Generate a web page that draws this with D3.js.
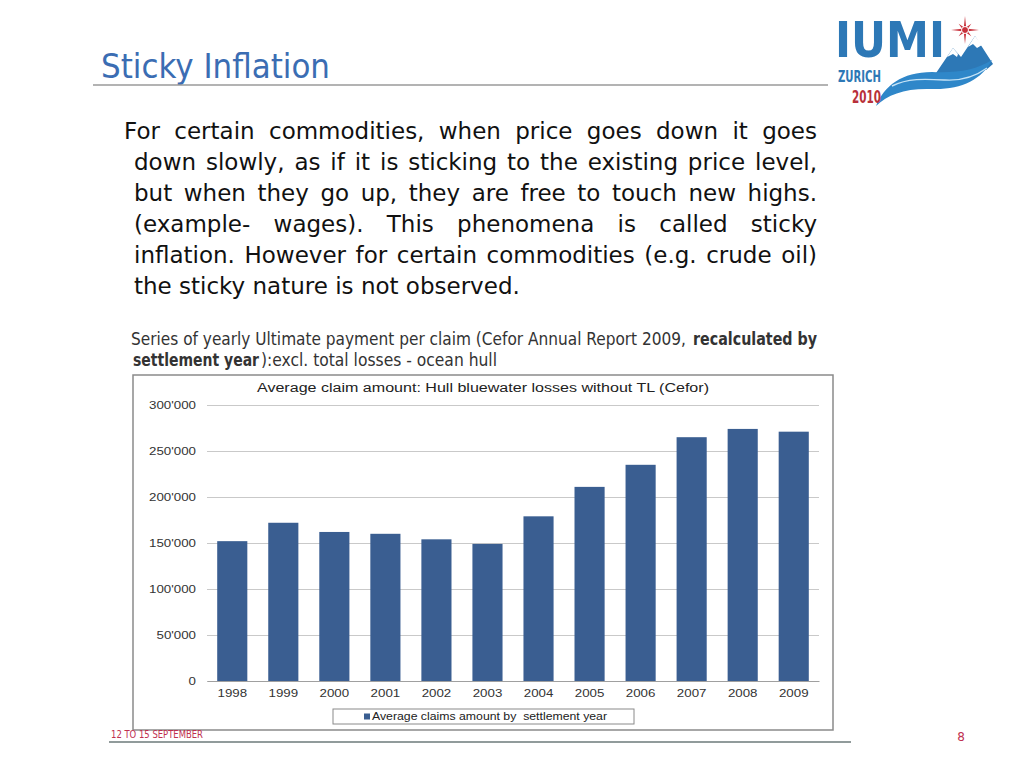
<!DOCTYPE html>
<html>
<head>
<meta charset="utf-8">
<script src="https://cdn.jsdelivr.net/npm/d3@7"></script>
<style>
  body { margin: 0; background: #fff; }
  svg { display: block; }
</style>
</head>
<body>
<svg id="page" width="1024" height="768"></svg>
<script>
// chart data
const years = ["1998", "1999", "2000", "2001", "2002", "2003", "2004", "2005", "2006", "2007", "2008", "2009"];
const avgClaims = [152000, 172000, 162000, 160000, 154000, 149000, 179000, 211000, 235000, 265000, 274000, 271000];
const yTicks = [0, 50000, 100000, 150000, 200000, 250000, 300000];

const chartTitle = "Average claim amount: Hull bluewater losses without TL (Cefor)";
const legendLabel = "Average claims amount by  settlement year";

const bodyLines = [
  "For certain commodities, when price goes down it goes",
  "down slowly, as if it is sticking to the existing price level,",
  "but when they go up, they are free to touch new highs.",
  "(example- wages). This phenomena is called sticky",
  "inflation. However for certain commodities (e.g. crude oil)",
  "the sticky nature is not observed."
];

const svg = d3.select("#page");
const blue = "#3b6db3";
const red = "#c0304f";
const bodyFont = "'DejaVu Sans', sans-serif";
const narrowFont = "'Liberation Sans Narrow', 'DejaVu Sans Condensed', sans-serif";

// stretch words of a line to fill a given width
const justify = (sel, width) => {
  sel.each(function () {
    const t = d3.select(this);
    const natural = this.getComputedTextLength();
    const spaces = (t.text().match(/ /g) || []).length;
    if (natural < width && spaces) {
      t.style("word-spacing", ((width - natural) / spaces) + "px");
    } else if (natural > width) {
      t.attr("textLength", width).attr("lengthAdjust", "spacingAndGlyphs");
    }
  });
};

// the pasted chart picture is stretched sideways
const widen = (sel, k) => {
  sel.each(function () {
    d3.select(this)
      .attr("textLength", this.getComputedTextLength() * k)
      .attr("lengthAdjust", "spacingAndGlyphs");
  });
};

// ---- header ----
svg.append("text")
  .attr("x", 101).attr("y", 78)
  .attr("font-family", bodyFont)
  .attr("font-size", 33)
  .attr("fill", blue)
  .attr("textLength", 229).attr("lengthAdjust", "spacingAndGlyphs")
  .text("Sticky Inflation");

svg.append("line")
  .attr("x1", 93).attr("x2", 828).attr("y1", 85).attr("y2", 85)
  .attr("stroke", "#9a9a9a").attr("stroke-width", 1.5);

// ---- logo ----
const logo = svg.append("g");
logo.append("path")
  .attr("d", "M934,76 L953,48 L961,57 L975,36 L993,64 L986,70 Z")
  .attr("fill", "#2d78b6");
logo.append("path")
  .attr("d", "M953,48 L947,57 L953,54 L957,57 L958,54 Z M975,36 L968,47 L973,44 L977,48 L982,45 Z")
  .attr("fill", "#fff");
logo.append("path")
  .attr("d", "M876,106 C884,86 902,72 932,72 C958,73 976,70 992,60 C982,80 960,90 932,89 C906,88 888,94 876,106 Z")
  .attr("fill", "#2f87c9");
logo.append("path")
  .attr("d", "M892,86 C908,78 925,79 945,80 C962,81 976,76 987,68")
  .attr("fill", "none").attr("stroke", "#c6e3f6").attr("stroke-width", 1.4);

// compass star
const starPts = d3.range(16).map(i => {
  const a = i * Math.PI / 8 - Math.PI / 2;
  const r = i % 4 === 0 ? 14 : (i % 2 === 0 ? 9 : 3);
  return [965 + r * Math.cos(a), 30 + r * Math.sin(a)];
});
logo.append("polygon")
  .attr("points", starPts.map(p => p.join(",")).join(" "))
  .attr("fill", "#c8323c");
logo.append("circle")
  .attr("cx", 965).attr("cy", 30).attr("r", 3.5)
  .attr("fill", "none").attr("stroke", "#fff").attr("stroke-width", 1);

logo.append("text")
  .attr("x", 835).attr("y", 57)
  .attr("font-family", narrowFont)
  .attr("font-weight", "bold")
  .attr("font-size", 50)
  .attr("fill", "#2d78b6")
  .attr("textLength", 110).attr("lengthAdjust", "spacingAndGlyphs")
  .text("IUMI");
logo.append("text")
  .attr("x", 838).attr("y", 82)
  .attr("font-family", narrowFont)
  .attr("font-weight", "bold")
  .attr("font-size", 15)
  .attr("fill", "#2d78b6")
  .attr("textLength", 43).attr("lengthAdjust", "spacingAndGlyphs")
  .text("ZURICH");
logo.append("text")
  .attr("x", 852).attr("y", 103)
  .attr("font-family", narrowFont)
  .attr("font-weight", "bold")
  .attr("font-size", 18)
  .attr("fill", "#b8303a")
  .attr("textLength", 29).attr("lengthAdjust", "spacingAndGlyphs")
  .text("2010");

// ---- body text ----
const body = svg.append("g")
  .attr("font-family", bodyFont)
  .attr("font-size", 23)
  .attr("fill", "#111");

body.selectAll("text")
  .data(bodyLines)
  .join("text")
  .attr("x", (d, i) => i === 0 ? 124 : 134)
  .attr("y", (d, i) => 139 + i * 31)
  .text(d => d)
  .filter((d, i) => i < bodyLines.length - 1)
  .each(function (d, i) {
    justify(d3.select(this), i === 0 ? 817 - 124 : 817 - 134);
  });

// ---- caption ----
const cap = svg.append("g")
  .attr("font-family", narrowFont)
  .attr("font-size", 17)
  .attr("fill", "#333");

const capParts = [
  { text: "Series of yearly Ultimate payment per claim (Cefor Annual Report 2009,", bold: false, x: 131, y: 345, w: 555 },
  { text: "recalculated by", bold: true, x: 693, y: 345, w: 124 },
  { text: "settlement year", bold: true, x: 133, y: 366, w: 126 },
  { text: "):excl. total losses - ocean hull", bold: false, x: 261, y: 366, w: 236 }
];
cap.selectAll("text")
  .data(capParts)
  .join("text")
  .attr("x", d => d.x).attr("y", d => d.y)
  .attr("font-weight", d => d.bold ? "bold" : "normal")
  .attr("textLength", d => d.w).attr("lengthAdjust", "spacingAndGlyphs")
  .text(d => d.text);

// ---- chart ----
const chartFont = "'Liberation Sans', Arial, sans-serif";
svg.append("rect")
  .attr("x", 133).attr("y", 375).attr("width", 700).attr("height", 355)
  .attr("fill", "#fff").attr("stroke", "#8a8a8a").attr("stroke-width", 1.5);

svg.append("text")
  .attr("x", 257).attr("y", 392)
  .attr("font-family", chartFont)
  .attr("font-size", 12)
  .attr("fill", "#222")
  .attr("textLength", 452).attr("lengthAdjust", "spacingAndGlyphs")
  .text(chartTitle);

const x = d3.scaleBand()
  .domain(years)
  .range([207, 819])
  .paddingInner(0.41)
  .paddingOuter(0.2);

const y = d3.scaleLinear()
  .domain([0, 300000])
  .range([681, 405]);

const fmt = v => d3.format(",")(v).replace(/,/g, "'");

// gridlines + y labels
svg.append("g")
  .attr("transform", "translate(207,0)")
  .call(d3.axisLeft(y).tickValues(yTicks).tickFormat(fmt).tickSize(-612).tickPadding(11))
  .call(g => g.select(".domain").remove())
  .call(g => g.selectAll(".tick line").attr("stroke", "#c9c9c9"))
  .call(g => g.selectAll(".tick text")
    .attr("font-family", chartFont).attr("font-size", 10).attr("fill", "#333")
    .call(widen, 1.33));

svg.append("g")
  .attr("fill", "#3a5e91")
  .selectAll("rect")
  .data(avgClaims)
  .join("rect")
  .attr("x", (d, i) => x(years[i]))
  .attr("y", d => y(d))
  .attr("width", x.bandwidth())
  .attr("height", d => y(0) - y(d));

// x axis
svg.append("g")
  .attr("transform", `translate(0,${y(0)})`)
  .call(d3.axisBottom(x).tickSize(0).tickPadding(9))
  .call(g => g.select(".domain").attr("stroke", "#a0a0a0"))
  .call(g => g.selectAll(".tick text")
    .attr("font-family", chartFont).attr("font-size", 10).attr("fill", "#333")
    .call(widen, 1.33));

// legend
const legend = svg.append("g");
legend.append("rect")
  .attr("x", 333).attr("y", 709).attr("width", 301).attr("height", 15)
  .attr("fill", "#fff").attr("stroke", "#8a8a8a").attr("stroke-width", 1);
legend.append("rect")
  .attr("x", 364).attr("y", 713.5).attr("width", 6).attr("height", 6)
  .attr("fill", "#3a5e91");
legend.append("text")
  .attr("x", 372).attr("y", 720)
  .attr("font-family", chartFont)
  .attr("font-size", 10)
  .attr("fill", "#222")
  .style("white-space", "pre")
  .attr("textLength", 235).attr("lengthAdjust", "spacingAndGlyphs")
  .text(legendLabel);

// ---- footer ----
svg.append("line")
  .attr("x1", 109).attr("x2", 851).attr("y1", 742).attr("y2", 742)
  .attr("stroke", "#6c7a7a").attr("stroke-width", 1.5);

svg.append("text")
  .attr("x", 111).attr("y", 738)
  .attr("font-family", narrowFont)
  .attr("font-size", 10)
  .attr("fill", red)
  .attr("textLength", 92).attr("lengthAdjust", "spacingAndGlyphs")
  .text("12 TO 15 SEPTEMBER");

svg.append("text")
  .attr("x", 961).attr("y", 741)
  .attr("text-anchor", "middle")
  .attr("font-family", bodyFont)
  .attr("font-size", 12)
  .attr("fill", red)
  .text("8");
</script>
</body>
</html>
